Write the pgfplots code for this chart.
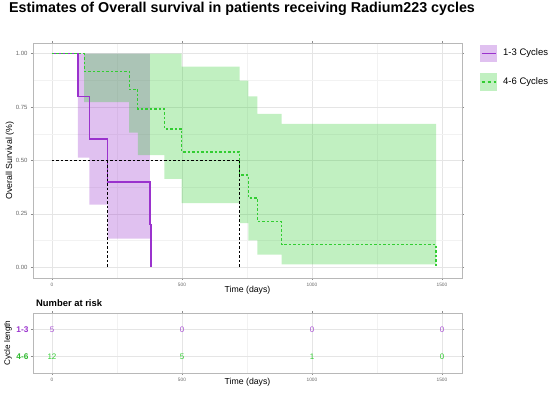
\documentclass[border=0pt]{standalone}
\usepackage{fontspec}
\setmainfont{Liberation Sans}
\usepackage{pgfplots}
\pgfplotsset{compat=1.18}
\definecolor{pur}{HTML}{9A32CD}
\definecolor{grn}{HTML}{32CD32}
\definecolor{grntxt}{HTML}{2DB82D}
\pgfplotsset{
  kmbase/.style={
    scale only axis, width=429pt,
    xmin=-73, xmax=1577,
    xtick={0,500,1000,1500}, minor xtick={250,750,1250},
    grid=both,
    major grid style={draw=black!10, line width=0.6pt},
    minor grid style={draw=black!5, line width=0.35pt},
    axis line style={draw=black!28, line width=0.8pt},
    tick align=outside, major tick length=2pt, minor tick length=0pt,
    tick style={black!45, line width=0.5pt},
    /pgf/number format/assume math mode=true,
    /pgf/number format/1000 sep={},
    scaled ticks=false,
    xticklabel style={font=\fontsize{4.8}{5}\selectfont, text=black!60},
  }
}
\begin{document}
\begin{tikzpicture}
\path[use as bounding box] (0pt,0pt) rectangle (550pt,392pt);
\node[anchor=base west, inner sep=0pt, font=\fontsize{14.3}{16}\selectfont\bfseries] at (9pt,379pt) {Estimates of Overall survival in patients receiving Radium223 cycles};
\begin{axis}[kmbase,
  at={(33pt,114pt)}, anchor=south west, height=235pt,
  ymin=-0.05, ymax=1.05,
  ytick={0,0.25,0.5,0.75,1}, minor ytick={0.125,0.375,0.625,0.875},
  yticklabel style={font=\fontsize{6}{6}\selectfont, text=black!60, /pgf/number format/.cd, fixed, fixed zerofill, precision=2},
  xlabel={Time (days)},
  xlabel style={at={(axis description cs:0.5,-0.051)}, anchor=center, font=\fontsize{8.7}{10}\selectfont},
  ylabel={Overall Survival (\%)},
  ylabel style={at={(axis description cs:-0.054,0.5)}, anchor=center, font=\fontsize{8.8}{10}\selectfont},
]
% confidence bands
\addplot[draw=none, fill=pur, fill opacity=0.3] coordinates {(100,1) (377,1) (377,0.134) (214,0.134) (214,0.293) (144,0.293) (144,0.513) (100,0.513)} -- cycle;
\addplot[draw=none, fill=grn, fill opacity=0.3] coordinates {
 (124,1) (499,1) (499,0.94) (722,0.94) (722,0.874) (755,0.874) (755,0.80) (790,0.80) (790,0.718) (883,0.718) (883,0.671) (1477,0.671)
 (1477,0.014) (883,0.014) (883,0.059) (790,0.059) (790,0.126) (755,0.126) (755,0.207) (722,0.207) (722,0.30) (499,0.30) (499,0.414) (432,0.414) (432,0.525) (330,0.525) (330,0.63) (297,0.63) (297,0.773) (124,0.773)} -- cycle;
% survival curves
\addplot[pur, line width=1.5pt, const plot] coordinates {(0,1) (100,0.8) (144,0.6) (214,0.4) (377,0.2) (380,0)};
\addplot[grn, line width=1.3pt, dash pattern=on 2.5pt off 2pt, const plot] coordinates {(0,1) (124,0.917) (297,0.833) (330,0.741) (432,0.648) (499,0.540) (722,0.432) (755,0.324) (790,0.216) (883,0.108) (1477,0)};
% median lines
\addplot[black, line width=0.9pt, dash pattern=on 2.5pt off 2pt] coordinates {(0,0.5) (722,0.5)};
\addplot[black, line width=0.9pt, dash pattern=on 2.5pt off 2pt] coordinates {(214,0.5) (214,0)};
\addplot[black, line width=0.9pt, dash pattern=on 2.5pt off 2pt] coordinates {(722,0.5) (722,0)};
\end{axis}
% risk table
\node[anchor=base west, inner sep=0pt, font=\fontsize{9.4}{11}\selectfont\bfseries] at (36pt,86pt) {Number at risk};
\begin{axis}[kmbase,
  at={(33pt,19pt)}, anchor=south west, height=60pt,
  ymin=0.4, ymax=2.6,
  ytick={1,2}, yticklabels={\textcolor{grntxt}{4-6},\textcolor{pur}{1-3}},
  yticklabel style={font=\fontsize{8.3}{10}\selectfont\bfseries, xshift=1pt},
  xlabel={Time (days)},
  xlabel style={at={(axis description cs:0.5,-0.16)}, anchor=center, font=\fontsize{8.7}{10}\selectfont},
  ylabel={Cycle length},
  ylabel style={at={(axis description cs:-0.058,0.5)}, anchor=center, font=\fontsize{8.2}{10}\selectfont},
]
\addplot[draw=none, mark=none, nodes near coords, point meta=explicit symbolic,
  nodes near coords style={anchor=center, font=\fontsize{8}{9}\selectfont, text=pur!85}] table[meta=lab] {
x y lab
0 2 5
500 2 0
1000 2 0
1500 2 0
};
\addplot[draw=none, mark=none, nodes near coords, point meta=explicit symbolic,
  nodes near coords style={anchor=center, font=\fontsize{8}{9}\selectfont, text=grn}] table[meta=lab] {
x y lab
0 1 12
500 1 5
1000 1 1
1500 1 0
};
\end{axis}
% legend
\fill[pur, fill opacity=0.3] (480pt,330pt) rectangle (497pt,347pt);
\draw[pur, line width=1.5pt] (481.5pt,338.5pt) -- (495.5pt,338.5pt);
\fill[grn, fill opacity=0.3] (480pt,301pt) rectangle (497pt,319pt);
\draw[grn, line width=1.3pt, dash pattern=on 3pt off 3pt] (481.5pt,310pt) -- (495.5pt,310pt);
\node[anchor=west, inner sep=0pt, font=\fontsize{9.5}{11}\selectfont] at (503pt,338.5pt) {1-3 Cycles};
\node[anchor=west, inner sep=0pt, font=\fontsize{9.5}{11}\selectfont] at (503pt,310pt) {4-6 Cycles};
\end{tikzpicture}
\end{document}
